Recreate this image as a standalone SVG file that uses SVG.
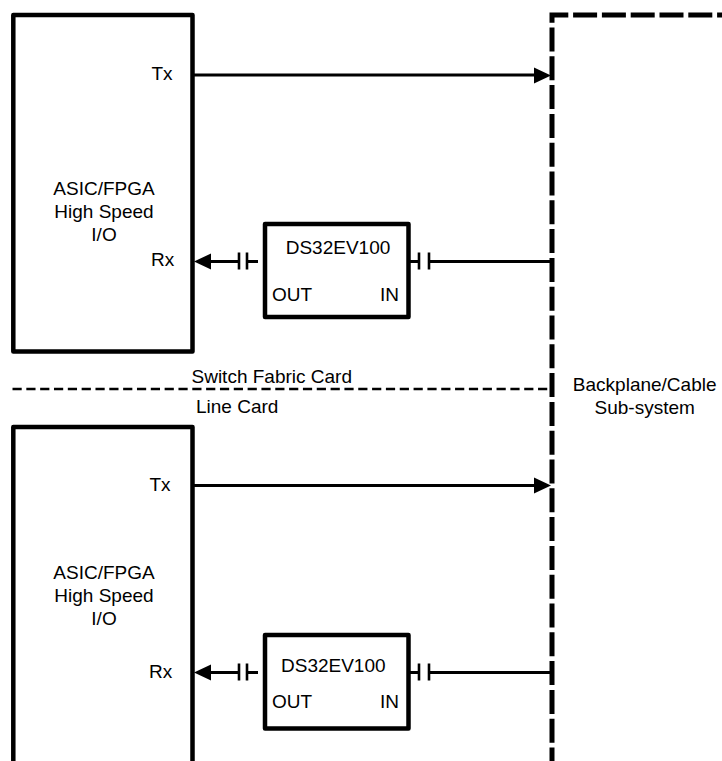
<svg xmlns="http://www.w3.org/2000/svg" width="722" height="761" viewBox="0 0 722 761">
<style>
text{font-family:"Liberation Sans",Arial,sans-serif;font-size:19px;fill:#000}
.box{fill:#fff;stroke:#000;stroke-width:4.500;stroke-linejoin:round}
.m{text-anchor:middle}
.w{fill:none;stroke:#000;stroke-width:3}
.p{fill:none;stroke:#000;stroke-width:2.600}
.a{fill:#000}
</style>
<rect width="722" height="761" fill="#fff"/>
<g id="connectors">
<path class="w" d="M193 75H536"/><polygon class="a" points="534,67.500 551,75.500 534,83.500"/>
<path class="w" d="M193 485.500H536"/><polygon class="a" points="534,477.500 551,485.500 534,493.500"/>
<path class="a" d="M194 261.500L211 253.500V269.500Z"/>
<path class="w" d="M210 261.500H239M247 261.500H258"/>
<path class="p" d="M239 252.500V269.500M247 252.500V269.500"/>
<path class="w" d="M410 261.500H419M429 261.500H552"/>
<path class="p" d="M419 252.500V269.500M429 252.500V269.500"/>
<path class="a" d="M194 672.500L211 664.500V680.500Z"/>
<path class="w" d="M210 672.500H239M247 672.500H258"/>
<path class="p" d="M239 663.500V680.500M247 663.500V680.500"/>
<path class="w" d="M410 672.500H419M429 672.500H552"/>
<path class="p" d="M419 663.500V680.500M429 663.500V680.500"/>
<path d="M12.500 389H552" fill="none" stroke="#000" stroke-width="2.400" stroke-dasharray="9.200 4.630"/>
</g>
<g id="asic-top">
<rect class="box" x="13.300" y="15" width="179.200" height="336.500"/>
<text class="m" x="104" y="195">ASIC/FPGA</text>
<text class="m" x="104" y="218">High Speed</text>
<text class="m" x="104" y="241">I/O</text>
<text x="151.500" y="79.500">Tx</text>
<text x="151" y="265.500">Rx</text>
</g>
<g id="asic-bottom">
<rect class="box" x="13.300" y="427" width="179.200" height="345"/>
<text class="m" x="104" y="579">ASIC/FPGA</text>
<text class="m" x="104" y="602">High Speed</text>
<text class="m" x="104" y="625">I/O</text>
<text x="149.500" y="490.500">Tx</text>
<text x="149" y="678">Rx</text>
</g>
<g id="ds32-top">
<rect class="box" x="265" y="224" width="143.500" height="93"/>
<text x="285.700" y="254">DS32EV100</text>
<text x="272" y="300.500">OUT</text>
<text x="380" y="300.500">IN</text>
</g>
<g id="ds32-bottom">
<rect class="box" x="265" y="635" width="143.500" height="93.500"/>
<text x="281" y="671.500">DS32EV100</text>
<text x="272" y="708">OUT</text>
<text x="380" y="708">IN</text>
</g>
<g id="backplane">
<path d="M552 771.500V15H730" fill="none" stroke="#000" stroke-width="5" stroke-dasharray="24 4.800"/>
<text class="m" x="644.700" y="391">Backplane/Cable</text>
<text class="m" x="644.700" y="414">Sub-system</text>
</g>
<g id="labels">
<text x="191.500" y="382.500">Switch Fabric Card</text>
<text x="196" y="412.500">Line Card</text>
</g>
</svg>
